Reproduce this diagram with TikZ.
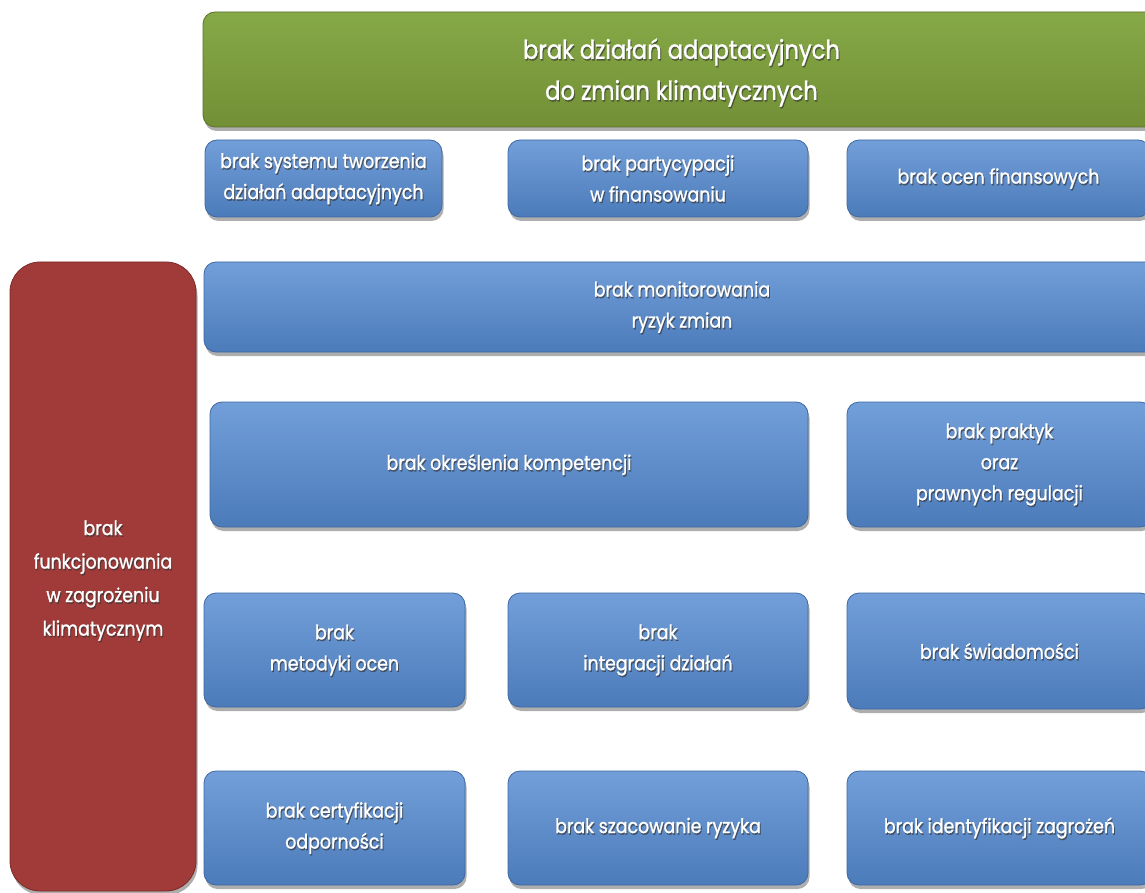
\documentclass[tikz,border=0pt]{standalone}
\usepackage{fontspec}
\setmainfont[FakeStretch=0.87,FakeBold=1.2]{Poppins}
\usetikzlibrary{fit,shadows}
\definecolor{bluetop}{HTML}{729FD9}
\definecolor{bluebot}{HTML}{4C7BBA}
\definecolor{blueedge}{HTML}{3E68A3}
\definecolor{greentop}{HTML}{86A947}
\definecolor{greenbot}{HTML}{728F35}
\definecolor{greenedge}{HTML}{5A7228}
\definecolor{redfill}{HTML}{A03B39}
\definecolor{rededge}{HTML}{7E2A28}
\tikzset{
  boxbase/.style={inner sep=0pt, line width=0.8pt,
    drop shadow={shadow xshift=1.5pt, shadow yshift=-4pt, opacity=0.45, fill=black!70}},
  bluebox/.style={boxbase, rounded corners=12pt, draw=blueedge, top color=bluetop, bottom color=bluebot},
  greenbox/.style={boxbase, rounded corners=12pt, draw=greenedge, top color=greentop, bottom color=greenbot},
  redbox/.style={boxbase, rounded corners=30pt, draw=rededge, fill=redfill},
  txt/.style={text=white, align=center, font=\fontsize{20}{31}\selectfont, inner sep=0pt},
  txtsh/.style={txt, text=black!80, opacity=0.6},
  redtxt/.style={txt, font=\fontsize{20}{33.5}\selectfont, yshift=-4pt},
  redtxtsh/.style={redtxt, text=black!80, opacity=0.6},
  bigtxt/.style={txt, font=\fontsize{26}{41}\selectfont, yshift=-3pt},
  bigtxtsh/.style={bigtxt, text=black!80, opacity=0.6},
}
% #1 box style, #2 text style, #3 name, #4-#7 corners (px), #8 text
\newcommand\mybox[8]{%
  \node[#1, fit={(#4pt,-#5pt) (#6pt,-#7pt)}] (#3) {};
  \node[#2sh] (#3s) at ([xshift=1pt,yshift=-1.6pt]#3.center) {#8};
  \node[#2] (#3t) at (#3.center) {#8};
}
\begin{document}
\begin{tikzpicture}[x=1pt,y=1pt]
\clip (0,0) rectangle (1145,-893);
\fill[white] (0,0) rectangle (1145,-893);
\mybox{greenbox}{bigtxt}{top}{203}{12}{1160}{127}{brak działań adaptacyjnych\\do zmian klimatycznych}
\mybox{bluebox}{txt}{b1}{205}{140}{442}{217}{brak systemu tworzenia\\działań adaptacyjnych}
\mybox{bluebox}{txt}{b2}{508}{140}{808}{217}{brak partycypacji\\w finansowaniu}
\mybox{bluebox}{txt}{b3}{847}{140}{1150}{217}{brak ocen finansowych}
\mybox{redbox}{redtxt}{red}{10}{262}{196}{891}{brak\\funkcjonowania\\w zagrożeniu\\klimatycznym}
\mybox{bluebox}{txt}{mon}{204}{262}{1160}{352}{brak monitorowania\\ryzyk zmian}
\mybox{bluebox}{txt}{komp}{210}{402}{808}{527}{brak określenia kompetencji}
\mybox{bluebox}{txt}{prak}{847}{402}{1152}{527}{brak praktyk\\oraz\\prawnych regulacji}
\mybox{bluebox}{txt}{met}{204}{593}{465}{707}{brak\\metodyki ocen}
\mybox{bluebox}{txt}{integ}{508}{593}{808}{707}{brak\\integracji działań}
\mybox{bluebox}{txt}{swiad}{847}{593}{1152}{709}{brak świadomości}
\mybox{bluebox}{txt}{cert}{204}{771}{465}{885}{brak certyfikacji\\odporności}
\mybox{bluebox}{txt}{szac}{508}{771}{808}{885}{brak szacowanie ryzyka}
\mybox{bluebox}{txt}{ident}{847}{771}{1152}{885}{brak identyfikacji zagrożeń}
\end{tikzpicture}
\end{document}
